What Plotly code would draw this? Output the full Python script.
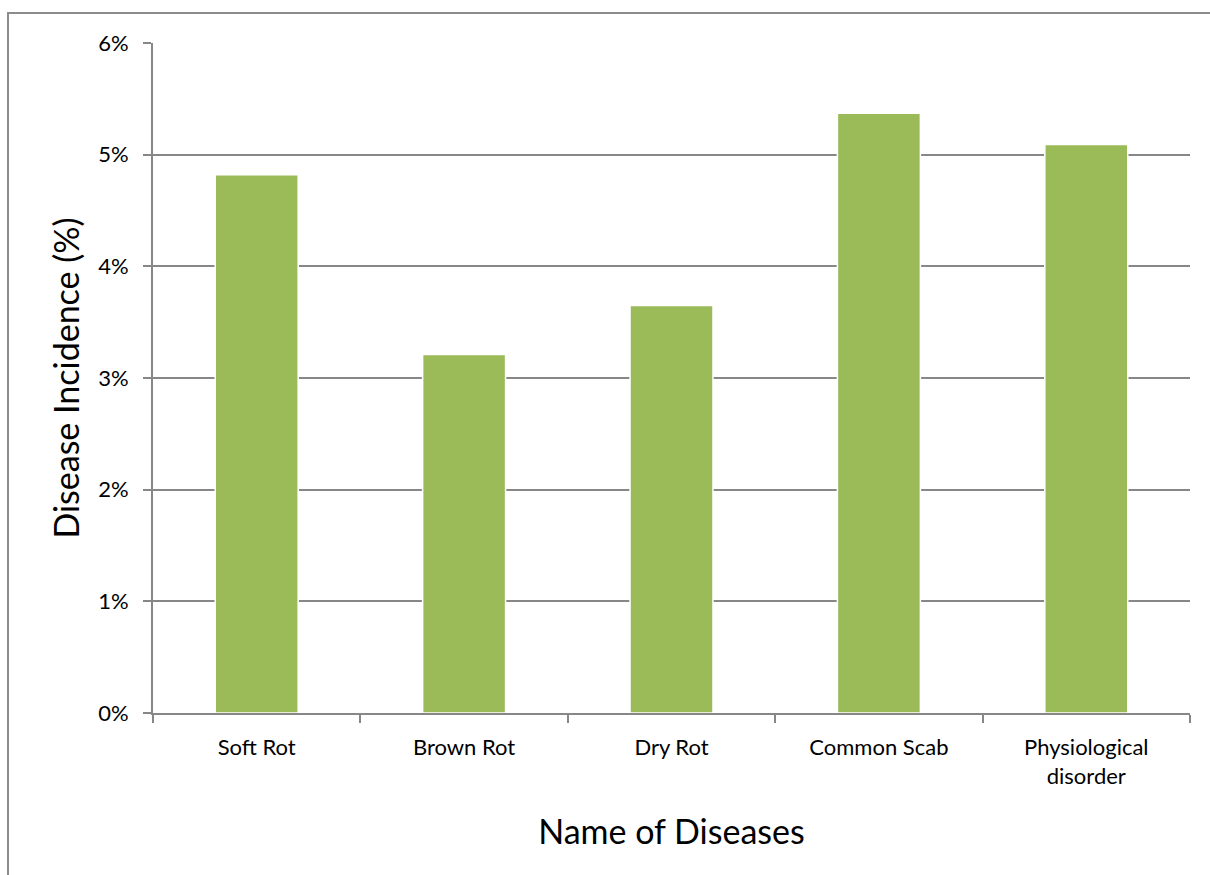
import plotly.graph_objects as go

categories = ["Soft Rot", "Brown Rot", "Dry Rot", "Common Scab", "Physiological<br>disorder"]
incidence = [0.0482, 0.0321, 0.0365, 0.0537, 0.0509]
y_ticks = [0, 0.01, 0.02, 0.03, 0.04, 0.05, 0.06]

FONT = "Lato, Carlito, Calibri, sans-serif"
GRID = "#878787"

fig = go.Figure()
fig.add_trace(go.Bar(
    x=categories, y=incidence,
    marker=dict(color="#9BBB59", line=dict(color="white", width=1.5)),
    width=0.4,
))

fig.update_layout(
    width=1210, height=875,
    margin=dict(l=153, r=20, t=43, b=162),
    paper_bgcolor="white", plot_bgcolor="white",
    font=dict(family=FONT, color="black", size=22),
    showlegend=False,
    xaxis=dict(
        title=dict(text="Name of Diseases", font=dict(size=34), standoff=32),
        showline=True, linecolor=GRID, linewidth=2,
        ticks="outside", tickson="boundaries", ticklen=8, tickcolor=GRID, tickwidth=2,
        showgrid=False, tickfont=dict(size=22), ticklabelstandoff=14,
    ),
    yaxis=dict(
        title=dict(text="Disease Incidence (%)", font=dict(size=34), standoff=8),
        range=[0, 0.06], tickvals=y_ticks, tickformat=".0%",
        showline=True, linecolor=GRID, linewidth=2,
        ticks="outside", ticklen=8, tickcolor=GRID, tickwidth=2,
        showgrid=True, gridcolor=GRID, gridwidth=2,
        zeroline=False, tickfont=dict(size=22), ticklabelstandoff=10,
    ),
)

fig.add_shape(type="rect", xref="paper", yref="paper",
              x0=-145/1037, x1=1.05, y0=-0.3, y1=1 + 30/670,
              line=dict(color="#8c8c8c", width=2), layer="below")

fig.write_html("out.html")
